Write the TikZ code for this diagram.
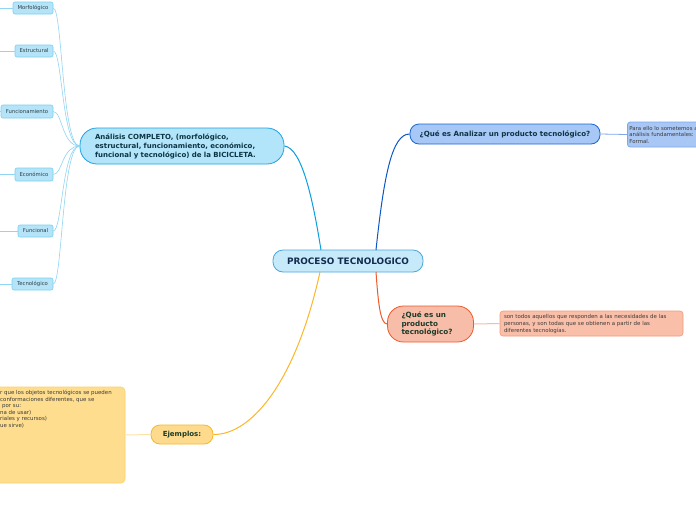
\documentclass[tikz,border=0pt]{standalone}
\usepackage{fontspec}
\setmainfont{DejaVu Sans}
\usetikzlibrary{calc}
\begin{document}
\begin{tikzpicture}[x=1pt,y=-1pt,
  font=\fontsize{5}{6}\selectfont,
  box/.style={draw,line width=0.8pt,inner sep=0pt},
  leafbox/.style={box,rounded corners=2pt,fill=leaffill,draw=leafdraw,line width=0.6pt,
     font=\fontsize{5.3}{6}\selectfont\color{leaftext}},
]
\definecolor{cfill}{HTML}{C6EAFA}\definecolor{cdraw}{HTML}{4AA6DC}
\definecolor{afill}{HTML}{B2E4FA}\definecolor{adraw}{HTML}{1FA3E3}
\definecolor{leaffill}{HTML}{B5E4F8}\definecolor{leafdraw}{HTML}{7CCFEF}
\definecolor{leaftext}{HTML}{2E3D45}
\definecolor{qfill}{HTML}{A7C8F7}\definecolor{qdraw}{HTML}{1A66D0}
\definecolor{rfill}{HTML}{A9C7F5}\definecolor{rdraw}{HTML}{7BA8EC}
\definecolor{pfill}{HTML}{F8BDA8}\definecolor{pdraw}{HTML}{F0582C}
\definecolor{plfill}{HTML}{F9BFA9}\definecolor{pldraw}{HTML}{F29A7C}
\definecolor{efill}{HTML}{FEDB8C}\definecolor{edraw}{HTML}{F5B82A}
\definecolor{elfill}{HTML}{FEDD8E}\definecolor{eldraw}{HTML}{FBD26C}
\definecolor{lineA}{HTML}{0C9FE0}\definecolor{lineAl}{HTML}{90D5F2}
\definecolor{lineQ}{HTML}{0B58C4}\definecolor{lineQl}{HTML}{7EA8EA}
\definecolor{lineP}{HTML}{EF5A2A}\definecolor{linePl}{HTML}{F8BBA8}
\definecolor{lineE}{HTML}{FBB727}\definecolor{lineEl}{HTML}{FDE3A8}
\definecolor{navy}{HTML}{122B4F}\definecolor{teal}{HTML}{0D3544}
\definecolor{dgreen}{HTML}{1B3A28}\definecolor{gray3}{HTML}{3A3A3A}
\useasboundingbox (0,0) rectangle (696,520);
\clip (0,0) rectangle (696,520);
\fill[white] (0,0) rectangle (696,520);

% central
\node[box,fill=cfill,draw=cdraw,rounded corners=10pt,minimum width=150pt,minimum height=22pt,
  font=\bfseries\fontsize{8.9}{10}\selectfont\color{navy}] (c) at (348,261) {PROCESO TECNOLOGICO};

% analisis
\node[box,fill=afill,draw=adraw,rounded corners=17pt,minimum width=204pt,minimum height=36pt,
  text width=174pt,align=left,font=\bfseries\fontsize{7}{9}\selectfont\color{teal}] (a) at (182,146)
  {Análisis COMPLETO, (morfológico,\\estructural, funcionamiento, económico,\\funcional y tecnológico) de la BICICLETA.};

% leaves
\node[leafbox,minimum width=40pt,minimum height=12pt] (l1) at (33,8) {Morfológico};
\node[leafbox,minimum width=38pt,minimum height=12pt] (l2) at (34,51) {Estructural};
\node[leafbox,minimum width=52pt,minimum height=13pt] (l3) at (27,111.5) {Funcionamiento};
\node[leafbox,minimum width=38pt,minimum height=13pt] (l4) at (34,174.5) {Económico};
\node[leafbox,minimum width=35pt,minimum height=12pt] (l5) at (35.5,231) {Funcional};
\node[leafbox,minimum width=41pt,minimum height=12pt] (l6) at (32.5,284) {Tecnológico};

\foreach \l in {l1,l2,l3,l4,l5,l6}{
  \draw[lineAl,line width=0.6pt] (\l.east) .. controls ($(\l.east)+(9,0)$) and (62,146) .. (a.west);
  \draw[lineAl,line width=0.6pt] (\l.west) -- ++(-20,0);
}

% Q1
\node[box,fill=qfill,draw=qdraw,rounded corners=9pt,minimum width=190pt,minimum height=20pt,
  font=\bfseries\fontsize{7.1}{8}\selectfont\color{teal}] (q) at (505,134) {¿Qué es Analizar un producto tecnológico?};
\node[box,fill=rfill,draw=rdraw,rounded corners=3pt,minimum width=90pt,minimum height=25pt,
  anchor=west,text width=86pt,align=left,inner sep=2pt,
  font=\fontsize{5.4}{6.5}\selectfont\color{gray3}] (r) at (627,134.5)
  {Para ello lo sometemos a\\análisis fundamentales:\\Formal.};

% Q2
\node[box,fill=pfill,draw=pdraw,rounded corners=16pt,minimum width=86pt,minimum height=36pt,
  text width=58pt,align=left,font=\bfseries\fontsize{7.2}{8.6}\selectfont\color{dgreen}] (p) at (430.5,324)
  {¿Qué es un\\producto\\tecnológico?};
\node[box,fill=plfill,draw=pldraw,line width=0.6pt,rounded corners=3pt,minimum width=183pt,minimum height=25pt,
  text width=175pt,align=left,font=\fontsize{5.45}{7}\selectfont\color{gray3}] (pl) at (591.5,323.5)
  {son todos aquellos que responden a las necesidades de las\\personas, y son todas que se obtienen a partir de las\\diferentes tecnologías.};

% Ejemplos
\node[box,fill=efill,draw=edraw,rounded corners=9pt,minimum width=62pt,minimum height=19pt,
  font=\bfseries\fontsize{7}{8}\selectfont\color{dgreen}] (e) at (182,434.5) {Ejemplos:};
\node[box,fill=elfill,draw=eldraw,line width=0.6pt,rounded corners=4pt,minimum width=140pt,minimum height=96pt] (el) at (55,435) {};
\node[anchor=north west,inner sep=0pt,align=left,font=\fontsize{5.45}{6.6}\selectfont\color{gray3}] (et) at (0,390)
  {r que los objetos tecnológicos se pueden\\%
conformaciones diferentes, que se\\%
\hspace*{2pt}por su:\\%
na de usar)\\%
riales y recursos)\\%
ue sirve)};

% branches
\draw[lineA,line width=1pt] (321,250) .. controls (313,200) and (302,148) .. (a.east);
\draw[lineQ,line width=1pt] (376,250) .. controls (384,175) and (392,134) .. (q.west);
\draw[lineP,line width=1pt] (376,272) .. controls (378,300) and (380,324) .. (p.west);
\draw[lineE,line width=1pt] (320,272) .. controls (295,385) and (250,435) .. (e.east);
\draw[lineQl,line width=0.8pt] (q.east) -- (r.west);
\draw[linePl,line width=1pt] (p.east) -- (pl.west);
\draw[lineEl,line width=1pt] (el.east) -- (e.west);
\end{tikzpicture}
\end{document}
